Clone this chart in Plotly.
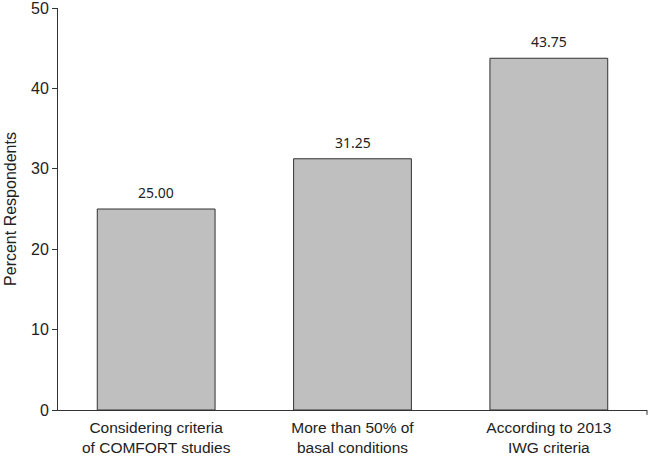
import plotly.graph_objects as go

categories = ["Considering criteria<br>of COMFORT studies",
              "More than 50% of<br>basal conditions",
              "According to 2013<br>IWG criteria"]
values = [25.00, 31.25, 43.75]
y_ticks = [0, 10, 20, 30, 40, 50]

fig = go.Figure()
fig.add_trace(go.Bar(
    x=categories, y=values,
    marker=dict(color="#BFBFBF", line=dict(color="#333333", width=1)),
    hoverinfo="skip",
))

for c, v in zip(categories, values):
    fig.add_annotation(
        x=c, y=v, text=f"{v:.2f}", showarrow=False,
        yanchor="bottom", yshift=5,
        font=dict(family="Noto Sans, Open Sans, sans-serif", size=14, color="#222222"),
    )

fig.update_layout(
    width=657, height=457,
    margin=dict(l=58, r=10, t=8, b=47),
    paper_bgcolor="white", plot_bgcolor="white",
    bargap=0.4,
    showlegend=False,
    font=dict(family="Liberation Sans, Arial, sans-serif", size=16, color="#222222"),
)
fig.update_xaxes(
    showline=True, linecolor="#333333", linewidth=1,
    ticks="", showgrid=False, automargin=False,
    tickfont=dict(size=15.5), ticklabeloverflow="allow", ticklabelstandoff=3,
)
fig.update_yaxes(
    range=[0, 50], tickvals=y_ticks, automargin=False,
    showline=True, linecolor="#333333", linewidth=1,
    ticks="outside", ticklen=5, tickcolor="#333333",
    showgrid=False, zeroline=False,
    tickfont=dict(size=16), ticklabeloverflow="allow",
    title=dict(text="Percent Respondents", font=dict(size=16), standoff=10),
)
fig.add_shape(type="line", xref="paper", yref="paper", x0=1, x1=1, y0=0, y1=-0.012,
              line=dict(color="#333333", width=1))

fig.write_html("out.html", config={"displayModeBar": False},
               post_script="document.body.style.margin='0';")
